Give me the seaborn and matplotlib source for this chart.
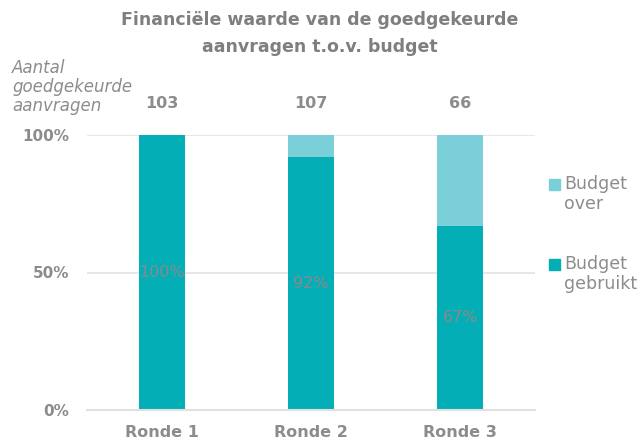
import pandas as pd
import numpy as np
import matplotlib
matplotlib.use("Agg")
import matplotlib.pyplot as plt
from matplotlib.patches import Rectangle
import seaborn as sns

rondes = ["Ronde 1", "Ronde 2", "Ronde 3"]
gebruikt = [100, 92, 67]
over = [0, 8, 33]
aantal = [103, 107, 66]
legend_labels = ["Budget\nover", "Budget\ngebruikt"]

DARK = "#04AEB6"
LIGHT = "#7ACFD9"
GREY = "#8C8C8C"

sns.set_theme(style="white")
plt.rcParams["font.family"] = ["DejaVu Sans"]

df = pd.DataFrame({"Ronde": rondes, "gebruikt": gebruikt, "over": over})
df["totaal"] = df["gebruikt"] + df["over"]

fig = plt.figure(figsize=(6.4, 4.44), dpi=100)
ax = fig.add_axes([87 / 640, 34 / 444, 448 / 640, 275 / 444])

sns.barplot(data=df, x="Ronde", y="totaal", color=LIGHT, width=0.31,
            saturation=1, ax=ax, linewidth=0)
sns.barplot(data=df, x="Ronde", y="gebruikt", color=DARK, width=0.31,
            saturation=1, ax=ax, linewidth=0)

ax.set_ylim(0, 100)
ax.set_xlim(-0.5, 2.5)
ax.set_yticks([0, 50, 100])
ax.set_yticklabels(["0%", "50%", "100%"])
ax.yaxis.grid(True, color="#E3E3E3", linewidth=1.2)
ax.set_axisbelow(True)
for s in ["top", "right", "left"]:
    ax.spines[s].set_visible(False)
ax.spines["bottom"].set_color("#E0E0E0")
ax.spines["bottom"].set_linewidth(1.5)
ax.set_xlabel("")
ax.set_ylabel("")
ax.tick_params(axis="x", length=0, labelsize=11.5, colors=GREY, pad=11)
ax.tick_params(axis="y", length=0, labelsize=11, colors=GREY, pad=13)
for t in ax.get_xticklabels() + ax.get_yticklabels():
    t.set_fontweight("bold")

for i, v in enumerate(gebruikt):
    ax.text(i, v / 2, f"{v}%", ha="center", va="center", fontsize=11.5,
            color="#8A8A8A")
for i, n in enumerate(aantal):
    ax.text(i, 111.5, str(n), ha="center", va="center", fontsize=11.5,
            color=GREY, fontweight="bold")

fig.text(12 / 640, 1 - 87 / 444, "Aantal\ngoedgekeurde\naanvragen", ha="left",
         va="center", fontsize=12, color=GREY, style="italic", linespacing=1.1)

fig.suptitle("Financiële waarde van de goedgekeurde\naanvragen t.o.v. budget",
             x=0.5, y=0.975, fontsize=12.5, fontweight="bold", color="#7F7F7F",
             linespacing=1.6)

# legend drawn by hand so the square sits by the first text line
for k, (lab, col) in enumerate(zip(legend_labels, [LIGHT, DARK])):
    ytop = 179 + k * 80
    fig.patches.append(Rectangle((549 / 640, 1 - (ytop + 11) / 444), 11 / 640, 11 / 444,
                                 transform=fig.transFigure, color=col))
    fig.text(564 / 640, 1 - (ytop - 4) / 444, lab, ha="left", va="top",
             fontsize=12.5, color=GREY, linespacing=1.15)

fig.savefig("out.png", dpi=100)
